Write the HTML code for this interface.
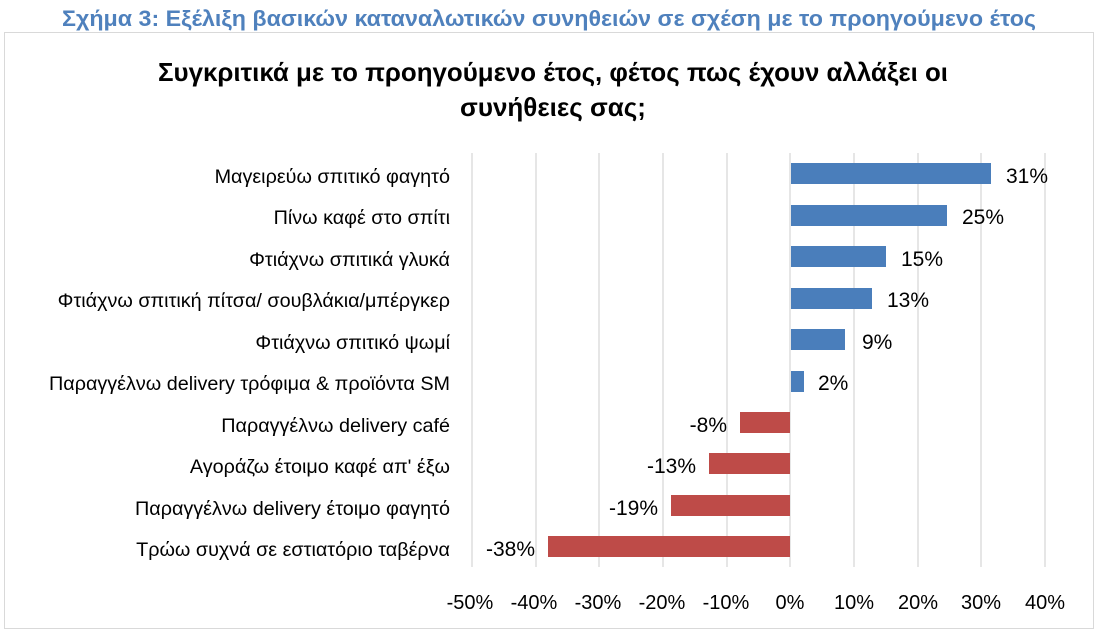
<!DOCTYPE html>
<html><head><meta charset="utf-8"><style>
body{margin:0;width:1099px;height:632px;background:#fff;overflow:hidden;font-family:"Liberation Sans",sans-serif}
</style></head><body>
<svg width="1099" height="632" xmlns="http://www.w3.org/2000/svg" font-family="Liberation Sans, sans-serif">
<text x="62" y="26" font-size="22" font-weight="bold" fill="#4f81bd" textLength="974" lengthAdjust="spacingAndGlyphs">Σχήμα 3: Εξέλιξη βασικών καταναλωτικών συνηθειών σε σχέση με το προηγούμενο έτος</text>
<rect x="4.5" y="32.5" width="1089" height="596" fill="#fff" stroke="#d9d9d9"/>
<text x="158" y="81" font-size="26" font-weight="bold" fill="#000" textLength="790" lengthAdjust="spacingAndGlyphs">Συγκριτικά με το προηγούμενο έτος, φέτος πως έχουν αλλάξει οι</text>
<text x="553" y="116" text-anchor="middle" font-size="26" font-weight="bold" fill="#000">συνήθειες σας;</text>
<g stroke="#d9d9d9" stroke-width="1.3">
<line x1="472" y1="153" x2="472" y2="567"/><line x1="536" y1="153" x2="536" y2="567"/><line x1="599" y1="153" x2="599" y2="567"/><line x1="663" y1="153" x2="663" y2="567"/><line x1="727" y1="153" x2="727" y2="567"/><line x1="790" y1="153" x2="790" y2="567"/><line x1="854" y1="153" x2="854" y2="567"/><line x1="918" y1="153" x2="918" y2="567"/><line x1="981" y1="153" x2="981" y2="567"/><line x1="1045" y1="153" x2="1045" y2="567"/>
</g>
<g font-size="21" fill="#000">
<rect x="791" y="163" width="200" height="21" fill="#4a7ebb"/><text x="1006" y="183">31%</text>
<rect x="791" y="205" width="156" height="21" fill="#4a7ebb"/><text x="962" y="224">25%</text>
<rect x="791" y="246" width="95" height="21" fill="#4a7ebb"/><text x="901" y="266">15%</text>
<rect x="791" y="288" width="81" height="21" fill="#4a7ebb"/><text x="887" y="307">13%</text>
<rect x="791" y="329" width="54" height="21" fill="#4a7ebb"/><text x="862" y="349">9%</text>
<rect x="791" y="371" width="13" height="21" fill="#4a7ebb"/><text x="818" y="390">2%</text>
<rect x="740" y="412" width="50" height="21" fill="#be4b48"/><text x="727" y="432" text-anchor="end">-8%</text>
<rect x="709" y="453" width="81" height="21" fill="#be4b48"/><text x="696" y="473" text-anchor="end">-13%</text>
<rect x="671" y="495" width="119" height="21" fill="#be4b48"/><text x="658" y="515" text-anchor="end">-19%</text>
<rect x="548" y="536" width="242" height="21" fill="#be4b48"/><text x="535" y="556" text-anchor="end">-38%</text>
</g>
<g font-size="19.8" fill="#000" text-anchor="end">
<text x="450" y="183">Μαγειρεύω σπιτικό φαγητό</text>
<text x="450" y="224">Πίνω καφέ στο σπίτι</text>
<text x="450" y="266">Φτιάχνω σπιτικά γλυκά</text>
<text x="450" y="307">Φτιάχνω σπιτική πίτσα/ σουβλάκια/μπέργκερ</text>
<text x="450" y="349">Φτιάχνω σπιτικό ψωμί</text>
<text x="450" y="390">Παραγγέλνω delivery τρόφιμα &amp; προϊόντα SM</text>
<text x="450" y="432">Παραγγέλνω delivery café</text>
<text x="450" y="473">Αγοράζω έτοιμο καφέ απ' έξω</text>
<text x="450" y="515">Παραγγέλνω delivery έτοιμο φαγητό</text>
<text x="450" y="556">Τρώω συχνά σε εστιατόριο ταβέρνα</text>
</g>
<g font-size="20" fill="#000" text-anchor="middle">
<text x="470" y="609">-50%</text><text x="534" y="609">-40%</text><text x="598" y="609">-30%</text><text x="662" y="609">-20%</text><text x="726" y="609">-10%</text><text x="790" y="609">0%</text><text x="854" y="609">10%</text><text x="918" y="609">20%</text><text x="981" y="609">30%</text><text x="1045" y="609">40%</text>
</g>
</svg>
</body></html>
